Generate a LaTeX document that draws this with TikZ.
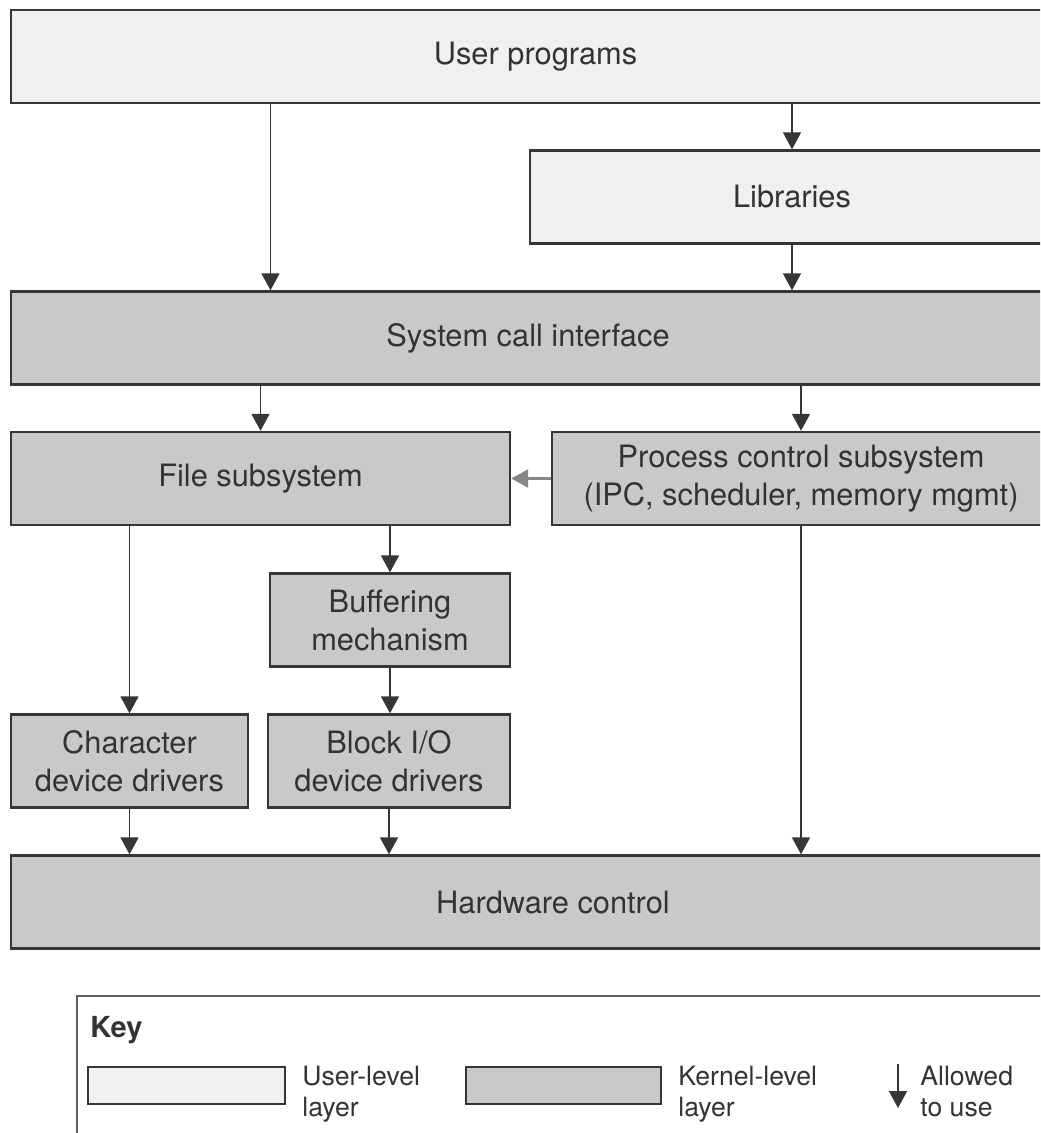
\documentclass[tikz,border=0pt]{standalone}
\usepackage{fontspec}
\setmainfont{TeX Gyre Heros}
\usepackage{tikz}
\usetikzlibrary{arrows.meta,positioning,calc}
\definecolor{userfill}{HTML}{EFF0F0}
\definecolor{kernfill}{HTML}{C8C9CA}
\definecolor{edgegray}{HTML}{363636}
\definecolor{textgray}{HTML}{333333}
\tikzstyle{userlayer} = [draw=edgegray, fill=userfill, rectangle, line width=1.2pt,
text=textgray, minimum height=46.5pt, inner sep=0pt, font=\fontsize{15.4}{19}\selectfont, align=center]
\tikzstyle{kernlayer} = [userlayer, fill=kernfill]
\tikzstyle{keytext} = [text=textgray, inner sep=0pt, anchor=north west, align=left,
font=\fontsize{13.3}{15.5}\selectfont]
\tikzstyle{uses} = [->, draw=edgegray, line width=0.9pt]

\begin{document}
\begin{tikzpicture}[x=0.5pt, y=-0.5pt, >={Triangle[width=9pt,length=8.5pt]}]
	\clip (0,0) rectangle (1040,1133);
	\fill[white] (0,0) rectangle (1040,1133);
	\node [userlayer, minimum width=524.5pt] (User) at (535.5,56.5) {User programs};
	\node [userlayer, minimum width=262pt] (Libraries) at (792,197) {Libraries};
	\node [kernlayer, minimum width=517pt] (SysCall) at (528,338) {System call interface};
	\node [kernlayer, minimum width=249.5pt] (FileSub) at (260.5,478.5) {File subsystem};
	\node [kernlayer, minimum width=249pt] (ProcCtl) at (801,478.5) {Process control subsystem\\(IPC, scheduler, memory mgmt)};
	\node [kernlayer, minimum width=120pt] (Buffer) at (390,620) {Buffering\\mechanism};
	\node [kernlayer, minimum width=118.5pt] (CharDrv) at (129.5,761) {Character\\device drivers};
	\node [kernlayer, minimum width=121pt] (BlockDrv) at (389,761) {Block I/O\\device drivers};
	\node [kernlayer, minimum width=542pt] (Hardware) at (553,902) {Hardware control};
	
	% key
	\node [draw=edgegray!80, line width=1pt, rectangle, anchor=north west,
	minimum width=512pt, minimum height=80pt] (KeyFrame) at (76,995) {};
	\node [keytext, font=\fontsize{14.5}{17}\selectfont\bfseries] (KeyTitle) at (90,1016) {Key};
	\node [userlayer, minimum width=98.5pt, minimum height=18.5pt, line width=1pt] (KeyUser) at (186.5,1085.5) {};
	\node [keytext] (KeyUserText) at (302,1066) {User-level\\layer};
	\node [kernlayer, minimum width=97.5pt, minimum height=18.5pt, line width=1pt] (KeyKern) at (563.5,1085.5) {};
	\node [keytext] (KeyKernText) at (678,1066) {Kernel-level\\layer};
	\node [keytext] (KeyUseText) at (920,1066) {Allowed\\to use};
	\coordinate (KeyTop) at (898,1064);
	\coordinate (KeyTip) at (898,1108);
	
	\draw [uses] ([xshift=5pt]User.south -| FileSub.north) -- ([xshift=5pt]FileSub.north |- SysCall.north);
	\draw [uses] (User.south -| Libraries.north) -- (Libraries.north);
	\draw [uses] (Libraries.south) -- (Libraries.south |- SysCall.north);
	\draw [uses] (SysCall.south -| FileSub.north) -- (FileSub.north);
	\draw [uses] (SysCall.south -| ProcCtl.north) -- (ProcCtl.north);
	\draw [uses, draw=edgegray!60, line width=1.4pt] (ProcCtl.west) -- (FileSub.east);
	\draw [uses] (FileSub.south -| CharDrv.north) -- (CharDrv.north);
	\draw [uses] (FileSub.south -| Buffer.north) -- (Buffer.north);
	\draw [uses] (Buffer.south) -- (Buffer.south |- BlockDrv.north);
	\draw [uses] (CharDrv.south) -- (CharDrv.south |- Hardware.north);
	\draw [uses] (BlockDrv.south) -- (BlockDrv.south |- Hardware.north);
	\draw [uses] (ProcCtl.south) -- (ProcCtl.south |- Hardware.north);
	\draw [uses] (KeyTop) -- (KeyTip);
	
\end{tikzpicture}
\end{document}
